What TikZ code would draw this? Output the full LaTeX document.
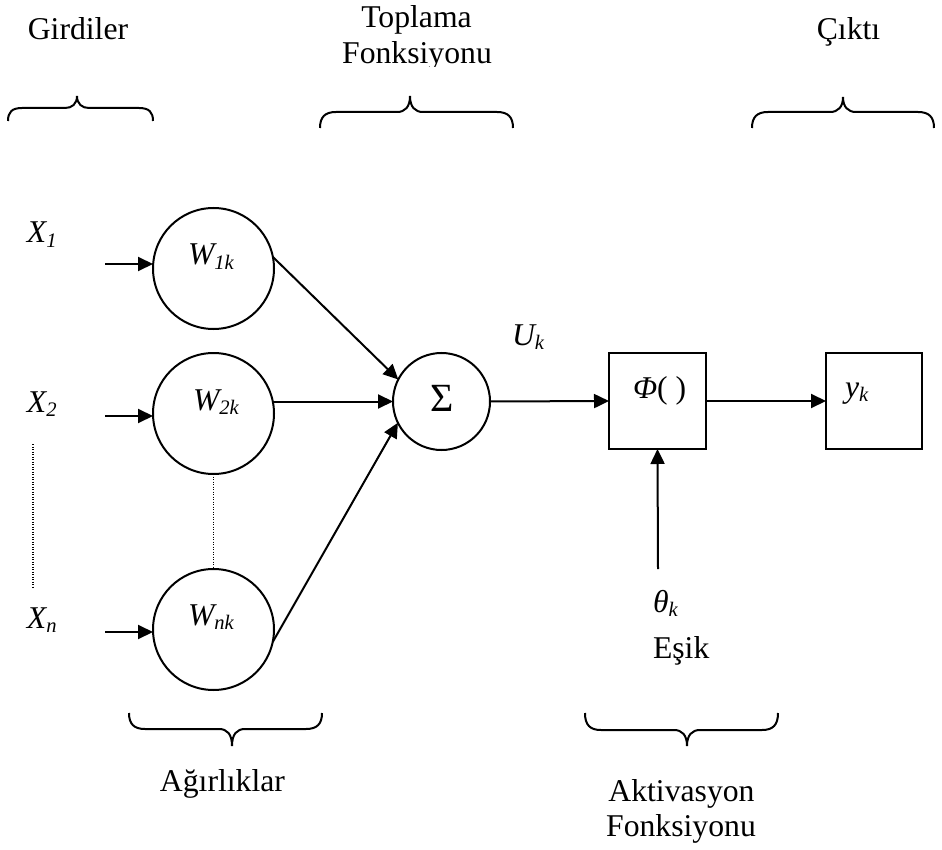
\documentclass[tikz,border=0pt]{standalone}
\usepackage{fontspec}
\setmainfont{Liberation Serif}
\usetikzlibrary{arrows.meta}
% lowered, smaller subscript in the style of a word processor
\newcommand\lowsub[1]{\raisebox{-0.13em}{\fontsize{20.6}{22}\selectfont #1}}

\begin{document}
\begin{tikzpicture}[x=1pt,y=-1pt,
  every node/.style={inner sep=0pt,outer sep=0pt},
  txt/.style={font=\fontsize{31.7}{36}\selectfont,anchor=base},
  itxt/.style={font=\fontsize{31.7}{36}\selectfont\itshape,anchor=base west},
  weight/.style={circle,draw,line width=2pt,minimum size=121pt},
  sumnode/.style={circle,draw,line width=2pt,minimum size=97pt},
  boxnode/.style={rectangle,draw,line width=2.2pt,minimum width=97pt,minimum height=96pt},
  arr/.style={line width=2pt,-{Triangle[length=15pt,width=14pt]}},
  dotline/.style={line width=1.2pt,dash pattern=on 1.2pt off 1.3pt},
  bracestroke/.style={line width=2pt}]

\useasboundingbox (0,0) rectangle (942,850);

% headings
\node[txt] (girdiler) at (78,40) {Girdiler};
\node[txt] (toplama) at (416.5,28) {Toplama};
\begin{scope}
  \clip (320,38) rectangle (520,66.5);
  \node[txt] (fonksiyonu1) at (417,64) {Fonksiyonu};
\end{scope}
\node[txt] (cikti) at (848.5,40) {Çıktı};

% top braces
\draw[bracestroke] (8,121) .. controls (8,112) and (12,108) .. (22,108) -- (65,108)
  .. controls (72,108) and (77,104) .. (77,96) .. controls (77,104) and (82,108) .. (89,108)
  -- (139,108) .. controls (149,108) and (153,112) .. (153,121);
\draw[bracestroke] (320,128) .. controls (320,117) and (325,112) .. (336,112) -- (397,112)
  .. controls (405,112) and (410,107) .. (410,96) .. controls (410,107) and (415,112) .. (423,112)
  -- (497,112) .. controls (508,112) and (513,117) .. (513,128);
\draw[bracestroke] (752,128) .. controls (752,117) and (757,112) .. (768,112) -- (830,112)
  .. controls (838,112) and (843,107) .. (843,97) .. controls (843,107) and (848,112) .. (856,112)
  -- (918,112) .. controls (929,112) and (934,117) .. (934,128);

% inputs
\node[itxt] (x1) at (27,243) {X\lowsub{1}};
\node[itxt] (x2) at (27,412) {X\lowsub{2}};
\node[itxt] (xn) at (27,628) {X\lowsub{n}};
\coordinate (a1) at (105,264);
\coordinate (a2) at (105,416);
\coordinate (an) at (105,632);
\coordinate (d1) at (33,444);
\coordinate (d2) at (33,587);

% weights
\node[weight] (w1) at (213.5,268.5) {};
\node[weight] (w2) at (213.5,413.5) {};
\node[weight] (wn) at (213.5,629.5) {};
\node[itxt] (w1t) at (188,265) {W\lowsub{1k}};
\node[itxt] (w2t) at (193,410) {W\lowsub{2k}};
\node[itxt] (wnt) at (188,625) {W\lowsub{nk}};

% summation, activation, output
\node[sumnode] (sigma) at (441.5,401.5) {};
\node[font=\fontsize{40}{40}\selectfont] (sigmat) at (442,398) {Σ};
\node[itxt] (uk) at (512,345) {U\lowsub{k}};
\node[boxnode] (phi) at (657.5,401) {};
\node[itxt] (phit) at (633,398) {Φ\upshape( )};
\node[boxnode,minimum width=96pt] (yk) at (874,401) {};
\node[itxt] (ykt) at (845,397) {y\lowsub{k}};
\coordinate (th) at (658,569);
\node[itxt] (theta) at (653,612) {θ\lowsub{k}};
\node[txt,anchor=base west] (esik) at (653,658) {Eşik};

% connectors
\draw[arr] (a1) -- (a1 -| w1.west);
\draw[arr] (a2) -- (a2 -| w2.west);
\draw[arr] (an) -- (an -| wn.west);
\draw[dotline] (d1) -- (d2);
\draw[dotline] (w2.south) -- (wn.north);
\draw[arr] (w1.11) -- (sigma.153);
\draw[arr] (w2.east |- sigma) -- (sigma.west);
\draw[arr] (wn.-12) -- (sigma.206);
\draw[arr] (sigma.east) -- (phi.west);
\draw[arr] (phi.east) -- (yk.west);
\draw[arr] (th) -- (phi.south);

% bottom braces
\draw[bracestroke] (129,713) .. controls (129,724) and (134,729) .. (145,729) -- (219,729)
  .. controls (227,729) and (232,734) .. (232,746) .. controls (232,734) and (237,729) .. (245,729)
  -- (306,729) .. controls (317,729) and (322,724) .. (322,713);
\draw[bracestroke] (585,713) .. controls (585,725) and (590,730) .. (601,730) -- (674,730)
  .. controls (682,730) and (687,735) .. (687,746) .. controls (687,735) and (692,730) .. (700,730)
  -- (762,730) .. controls (773,730) and (778,725) .. (778,713);

\node[txt] (agirliklar) at (222.5,791) {Ağırlıklar};
\node[txt] (aktivasyon) at (681.5,801) {Aktivasyon};
\node[txt] (fonksiyonu2) at (681,836) {Fonksiyonu};

\end{tikzpicture}
\end{document}
